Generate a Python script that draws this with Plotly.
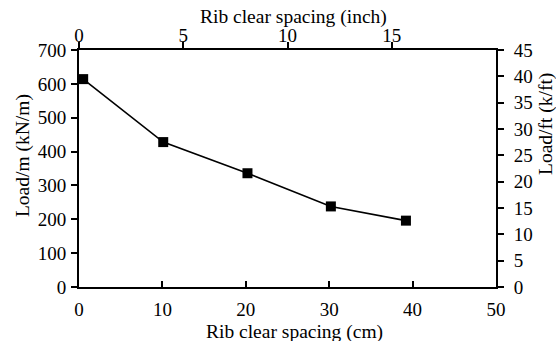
import plotly.graph_objects as go

spacing_cm = [0.5, 10.1, 20.2, 30.2, 39.2]
load_kn_m = [614, 428, 336, 238, 196]

x_ticks_cm = [0, 10, 20, 30, 40, 50]
x_ticks_inch = [0, 5, 10, 15]
y_ticks_left = [0, 100, 200, 300, 400, 500, 600, 700]
y_ticks_right = [0, 5, 10, 15, 20, 25, 30, 35, 40, 45]

FAMILY = "Liberation Serif, Times New Roman, serif"
TICKFONT = dict(family=FAMILY, size=19, color="black")
TITLEFONT = dict(family=FAMILY, size=19.5, color="black")

fig = go.Figure()
fig.add_trace(go.Scatter(
    x=spacing_cm, y=load_kn_m, mode="lines+markers",
    line=dict(color="black", width=1.6),
    marker=dict(symbol="square", size=10, color="black"),
    showlegend=False, cliponaxis=False,
))
# invisible trace to activate the secondary axes
fig.add_trace(go.Scatter(x=[0], y=[0], xaxis="x2", yaxis="y2", mode="markers",
                         marker=dict(opacity=0), showlegend=False, hoverinfo="skip"))

axis_common = dict(showgrid=False, zeroline=False, showline=True, linecolor="black",
                   linewidth=2, tickcolor="black", tickwidth=2, ticklen=6,
                   tickfont=TICKFONT, mirror=False, automargin=False)

fig.update_layout(
    width=556, height=341,
    margin=dict(l=79, r=60, t=50, b=54),
    paper_bgcolor="white", plot_bgcolor="white",
    font=TICKFONT,
    xaxis=dict(range=[0, 50], tickvals=x_ticks_cm, ticks="inside",
               ticklabelstandoff=4, **axis_common),
    xaxis2=dict(range=[0, 20], tickvals=x_ticks_inch, ticks="outside", side="top",
                overlaying="x", anchor="y", ticklabelstandoff=-8, **axis_common),
    yaxis=dict(range=[0, 700], tickvals=y_ticks_left, ticks="outside",
               ticklabelstandoff=1, **axis_common),
    yaxis2=dict(range=[0, 45], tickvals=y_ticks_right, ticks="outside", side="right",
                overlaying="y", anchor="x", ticklabelstandoff=6, **axis_common),
)

titles = [
    dict(text="Rib clear spacing (cm)", x=0.517, y=-0.188, textangle=0),
    dict(text="Rib clear spacing (inch)", x=0.514, y=1.14, textangle=0),
    dict(text="Load/m (kN/m)", x=-0.134, y=0.553, textangle=-90),
    dict(text="Load/ft (k/ft)", x=1.12, y=0.688, textangle=-90),
]
for t in titles:
    fig.add_annotation(text=t["text"], x=t["x"], y=t["y"], xref="paper", yref="paper",
                       xanchor="center", yanchor="middle", textangle=t["textangle"],
                       showarrow=False, font=TITLEFONT)

fig.write_html("out.html")
